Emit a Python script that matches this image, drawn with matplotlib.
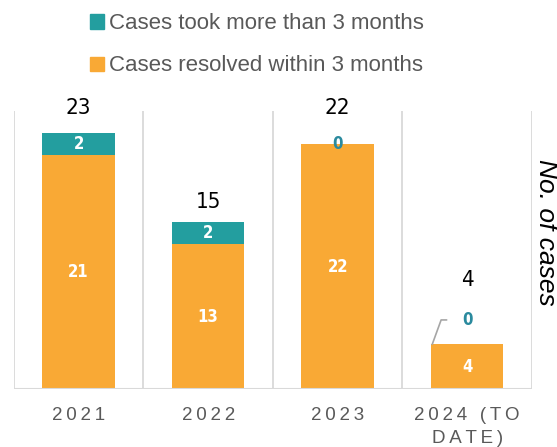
import numpy as np
import matplotlib.pyplot as plt
from matplotlib.patches import Patch

years = ["2021", "2022", "2023", "2024 (TO\nDATE)"]
within_3m = [21, 13, 22, 4]
over_3m = [2, 2, 0, 0]
totals = [23, 15, 22, 4]

orange = "#F9A935"
teal = "#239E9F"
label_teal = "#2A8A9E"
grey_text = "#595959"
grid_col = "#D9D9D9"

# how far above each bar the total sits (data units)
total_gap = [2.3, 1.8, 3.3, 5.8]


def spaced(s):
    # imitate the letter spacing of the category labels
    return "\n".join("\u2009".join(line) for line in s.split("\n"))


fig = plt.figure(figsize=(5.57, 4.47), dpi=100)
ax = fig.add_axes([0.025, 0.13, 0.93, 0.622])

x = np.arange(len(years))
ax.bar(x, within_3m, width=0.56, color=orange, zorder=3)
ax.bar(x, over_3m, width=0.56, bottom=within_3m, color=teal, zorder=3)

ax.set_xlim(-0.5, len(years) - 0.5)
ax.set_ylim(0, 25)
for b in np.arange(-0.5, len(years), 1.0):
    ax.axvline(b, color=grid_col, lw=1.3, zorder=1)
ax.axhline(0, color=grid_col, lw=1.5, zorder=4)

for s in ax.spines.values():
    s.set_visible(False)
ax.set_yticks([])
ax.set_xticks(x)
ax.set_xticklabels([spaced(y) for y in years], fontsize=13.5, color=grey_text,
                   family=["Liberation Sans", "DejaVu Sans"], linespacing=1.5, va="top")
ax.tick_params(axis="x", length=0, pad=13)

num_font = dict(family="DejaVu Sans", fontstretch="condensed")
for i in range(len(years)):
    ax.text(x[i], totals[i] + total_gap[i], str(totals[i]), ha="center", va="center",
            fontsize=16, color="black", zorder=5, **num_font)
    ax.text(x[i], within_3m[i] / 2, str(within_3m[i]), ha="center", va="center",
            fontsize=12, color="white", fontweight="bold", zorder=5, **num_font)
    if over_3m[i] > 0:
        ax.text(x[i], within_3m[i] + over_3m[i] / 2, str(over_3m[i]), ha="center",
                va="center", fontsize=12, color="white", fontweight="bold",
                zorder=5, **num_font)

# zero labels
ax.text(x[2], within_3m[2] + over_3m[2], str(over_3m[2]), ha="center", va="center",
        fontsize=12, color=label_teal, fontweight="bold", zorder=5, **num_font)
ax.annotate(str(over_3m[3]), xy=(x[3] - 0.27, within_3m[3]),
            xytext=(x[3], within_3m[3] + 2.2), ha="center", va="center",
            fontsize=12, color=label_teal, fontweight="bold",
            arrowprops=dict(arrowstyle="-", color="#A6A6A6", lw=1.2,
                            connectionstyle="angle,angleA=0,angleB=70,rad=0",
                            shrinkA=9, shrinkB=0),
            zorder=5, **num_font)

# axis title on the right, reading downwards
fig.text(0.98, 0.48, "No. of cases", rotation=-90, fontsize=19, style="italic",
         color="black", family=["Liberation Sans", "DejaVu Sans"],
         ha="center", va="center")

handles = [Patch(color=teal), Patch(color=orange)]
fig.legend(handles, ["Cases took more than 3 months", "Cases resolved within 3 months"],
           loc="upper left", bbox_to_anchor=(0.126, 1.015), frameon=False,
           handlelength=0.6, handleheight=0.6, handletextpad=0.25, labelspacing=0.95,
           prop=dict(family=["Liberation Sans", "DejaVu Sans"], size=16),
           labelcolor=grey_text)

fig.savefig("out.png", dpi=100)
